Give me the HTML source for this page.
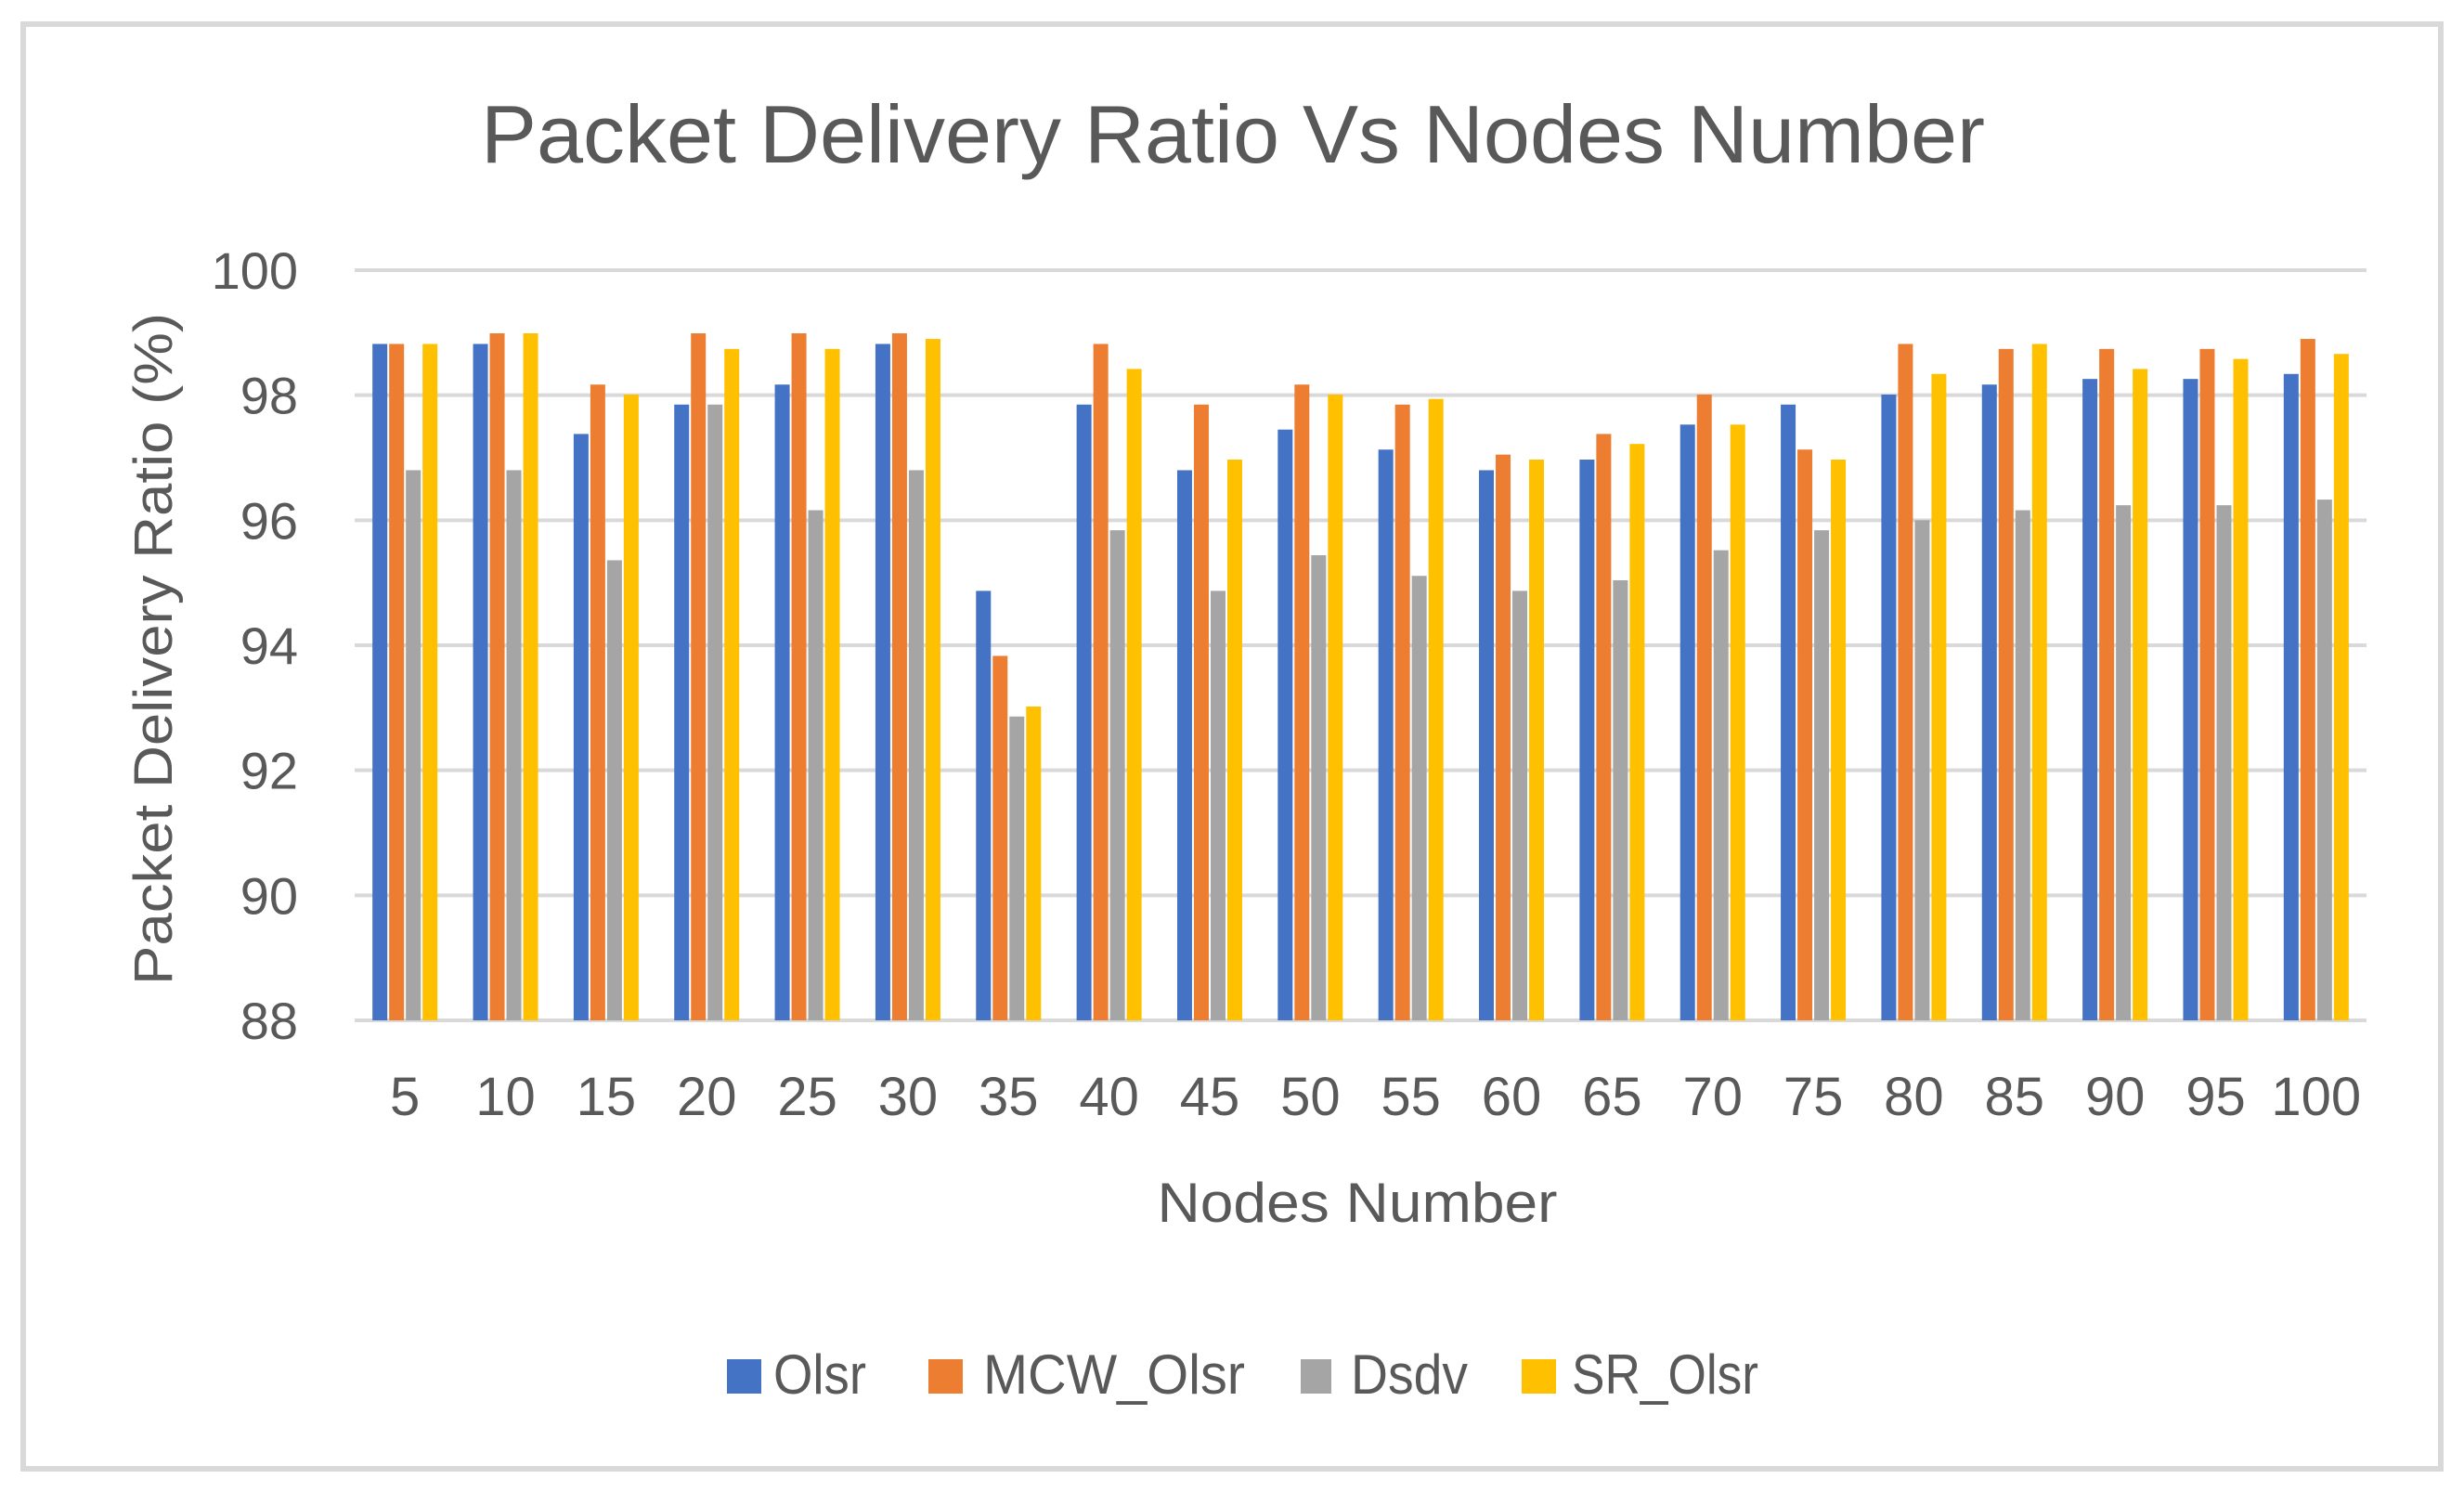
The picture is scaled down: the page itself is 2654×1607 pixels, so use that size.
<!DOCTYPE html>
<html><head><meta charset="utf-8"><style>
html,body{margin:0;padding:0;background:#fff;}
svg{display:block;font-family:"Liberation Sans",sans-serif;}
</style></head><body>
<svg id="chart" width="2654" height="1607" viewBox="0 0 2654 1607" xmlns="http://www.w3.org/2000/svg">
<rect x="25" y="26" width="2604" height="1556" fill="#fff" stroke="#d9d9d9" stroke-width="6"/>
<text x="1328" y="175" text-anchor="middle" font-size="88" fill="#595959" textLength="1620" lengthAdjust="spacingAndGlyphs">Packet Delivery Ratio Vs Nodes Number</text>
<g id="grid"></g>
<g id="bars"></g>
<g id="xlabels"></g>
<g id="ylabels"></g>
<text transform="translate(185,699) rotate(-90)" text-anchor="middle" font-size="58" fill="#595959" textLength="724" lengthAdjust="spacingAndGlyphs">Packet Delivery Ratio (%)</text>
<text x="1462" y="1316" text-anchor="middle" font-size="60" fill="#595959" textLength="431" lengthAdjust="spacingAndGlyphs">Nodes Number</text>
<g>
<rect x="783" y="1464" width="37" height="37" fill="#4472c4"/>
<text x="833" y="1501" font-size="60" fill="#595959" textLength="100" lengthAdjust="spacingAndGlyphs">Olsr</text>
<rect x="1000" y="1464" width="37" height="37" fill="#ed7d31"/>
<text x="1059" y="1501" font-size="60" fill="#595959" textLength="282" lengthAdjust="spacingAndGlyphs">MCW_Olsr</text>
<rect x="1401" y="1464" width="33" height="37" fill="#a5a5a5"/>
<text x="1455" y="1501" font-size="60" fill="#595959" textLength="126" lengthAdjust="spacingAndGlyphs">Dsdv</text>
<rect x="1639" y="1464" width="37" height="37" fill="#ffc000"/>
<text x="1693" y="1501" font-size="60" fill="#595959" textLength="201" lengthAdjust="spacingAndGlyphs">SR_Olsr</text>
</g>
</svg>
<script>
const categories = [5,10,15,20,25,30,35,40,45,50,55,60,65,70,75,80,85,90,95,100];
const olsr   = [98.82,98.82,97.38,97.85,98.17,98.82,94.87,97.85,96.8,97.45,97.13,96.8,96.97,97.53,97.85,98.01,98.17,98.26,98.26,98.34];
const mcwOlsr= [98.82,98.99,98.17,98.99,98.99,98.99,93.83,98.82,97.85,98.17,97.85,97.05,97.38,98.01,97.13,98.82,98.74,98.74,98.74,98.9];
const dsdv   = [96.8,96.8,95.36,97.85,96.16,96.8,92.86,95.84,94.87,95.44,95.11,94.87,95.04,95.52,95.84,96.0,96.16,96.24,96.24,96.33];
const srOlsr = [98.82,98.99,98.01,98.74,98.74,98.9,93.02,98.42,96.97,98.01,97.94,96.97,97.22,97.53,96.97,98.34,98.82,98.42,98.58,98.66];
const yTicks = [88,90,92,94,96,98,100];
const seriesNames = ["olsr","mcw-olsr","dsdv","sr-olsr"];

const NS="http://www.w3.org/2000/svg";
const X0=382, X1=2549, Y0=1099, Y1=291, YMIN=88, YMAX=100;
const colors=["#4472c4","#ed7d31","#a5a5a5","#ffc000"];
const gw=(X1-X0)/categories.length;
function yScale(v){return Y0-(v-YMIN)/(YMAX-YMIN)*(Y0-Y1);}
function xBand(i){return X0+i*gw;}
const grid=document.getElementById('grid'), ylab=document.getElementById('ylabels');
yTicks.forEach(t=>{
  const l=document.createElementNS(NS,'line');
  
  
  l.setAttribute('x1',X0);l.setAttribute('x2',X1);
  l.setAttribute('y1',yScale(t));l.setAttribute('y2',yScale(t));
  l.setAttribute('stroke','#d9d9d9');l.setAttribute('stroke-width','4');
  grid.appendChild(l);
  const tx=document.createElementNS(NS,'text');
  
  
  tx.setAttribute('x',321);tx.setAttribute('y',yScale(t)+20);
  tx.setAttribute('text-anchor','end');tx.setAttribute('font-size','56');tx.setAttribute('fill','#595959');
  tx.textContent=t;
  ylab.appendChild(tx);
});
const bars=document.getElementById('bars'), xlab=document.getElementById('xlabels');
const series=[olsr,mcwOlsr,dsdv,srOlsr];
const bw=16, step=18, off=(gw-(step*3+bw))/2;
categories.forEach((c,i)=>{
  series.forEach((s,k)=>{
    const r=document.createElementNS(NS,'rect');
    
    
    const y=yScale(s[i]);
    r.setAttribute('x',xBand(i)+off+k*step);r.setAttribute('y',y);
    r.setAttribute('width',bw);r.setAttribute('height',Y0-y);
    r.setAttribute('fill',colors[k]);
    bars.appendChild(r);
  });
  const tx=document.createElementNS(NS,'text');
  
  
  tx.setAttribute('x',xBand(i)+gw/2);tx.setAttribute('y',1201);
  tx.setAttribute('text-anchor','middle');tx.setAttribute('font-size','58');tx.setAttribute('fill','#595959');
  tx.textContent=c;
  xlab.appendChild(tx);
});
</script>
</body></html>
